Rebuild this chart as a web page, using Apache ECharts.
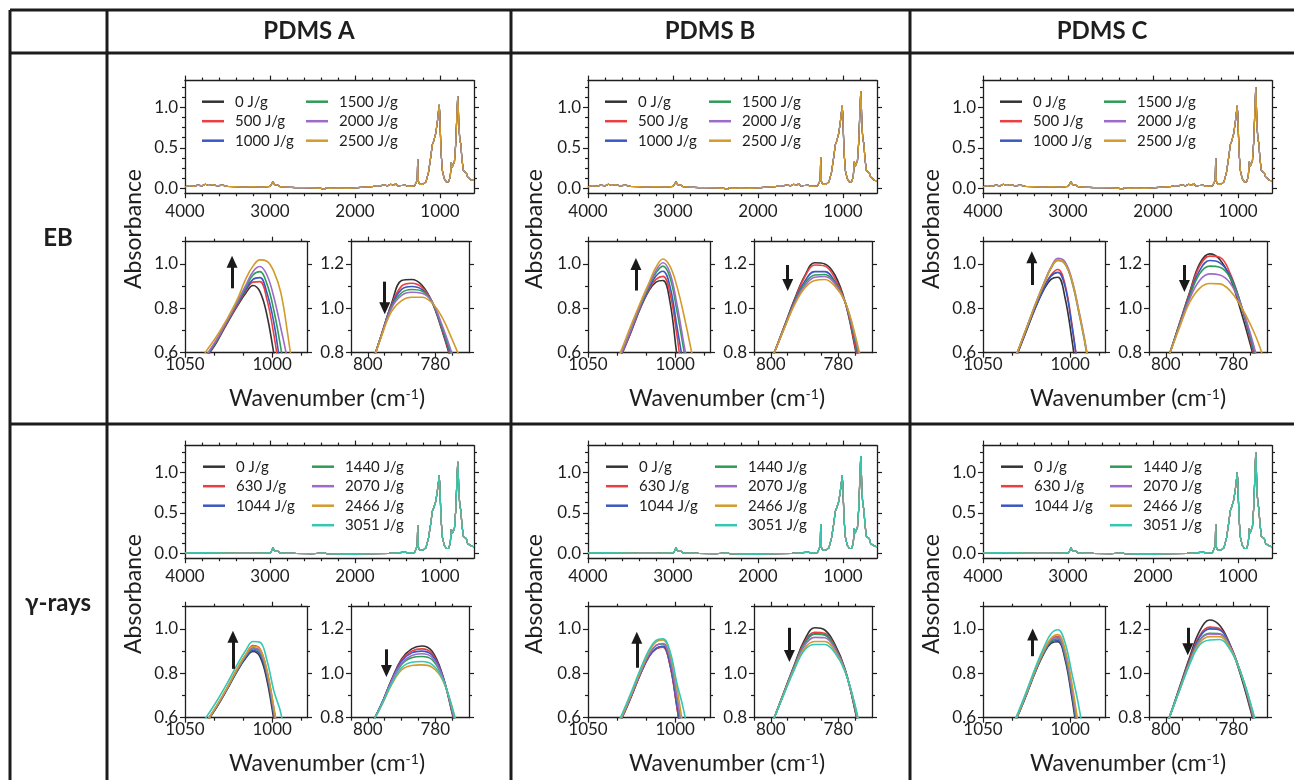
<!DOCTYPE html>
<html>
<head>
<meta charset="utf-8">
<script src="https://cdn.jsdelivr.net/npm/echarts@6.0.0/dist/echarts.min.js"></script>
<style>
  html, body { margin: 0; padding: 0; background: #fff; }
  #chart { width: 1294px; height: 780px; }
</style>
</head>
<body>
<div id="chart"></div>
<script>
// ---- labels ----
const materials = ['PDMS A', 'PDMS B', 'PDMS C'];
const treatments = ['EB', 'γ-rays'];
const dosesEB = ['0 J/g', '500 J/g', '1000 J/g', '1500 J/g', '2000 J/g', '2500 J/g'];
const dosesGamma = ['0 J/g', '630 J/g', '1044 J/g', '1440 J/g', '2070 J/g', '2466 J/g', '3051 J/g'];
const doseColors = ['#333333', '#ec3f3f', '#3b57c2', '#2f9c55', '#9d6ccb', '#d29b2b', '#35c7b4'];

// ---- full spectra (wavenumber, absorbance) ----
const specBaseEB = [[4000,0.02],[3950,0.035],[3900,0.025],[3850,0.04],[3800,0.03],[3760,0.05],[3720,0.035],[3680,0.045],[3620,0.03],[3560,0.04],[3500,0.025],[3400,0.02],[3300,0.015],[3200,0.02],[3100,0.015],[3000,0.025],[2965,0.08],[2945,0.045],[2910,0.04],[2880,0.02],[2800,0.015],[2700,0.01],[2600,0.01],[2500,0.005],[2400,0.0],[2360,-0.015],[2340,0.01],[2300,0.0],[2200,0.005],[2100,0.0],[2000,0.005],[1900,0.015],[1800,0.02],[1750,0.035],[1700,0.03],[1660,0.045],[1620,0.03],[1580,0.05],[1540,0.035],[1520,0.06],[1500,0.03],[1450,0.035],[1412,0.04],[1380,0.025],[1300,0.03]];
const specBaseGamma = [[4000,0.005],[3800,0.01],[3600,0.005],[3400,0.0],[3200,0.0],[3050,0.005],[2990,0.01],[2965,0.07],[2945,0.025],[2905,0.025],[2880,0.005],[2700,0.0],[2500,-0.005],[2360,0.005],[2330,-0.005],[2200,-0.01],[2000,-0.012],[1800,-0.005],[1600,0.0],[1500,0.005],[1412,0.015],[1380,0.005],[1300,0.01]];

const specPeaksEB_A = [[1290,0.03],[1268,0.1],[1262,0.36],[1256,0.09],[1240,0.05],[1200,0.05],[1165,0.08],[1135,0.2],[1110,0.38],[1090,0.54],[1075,0.58],[1050,0.68],[1030,0.83],[1018,0.95],[1010,1.03],[1003,0.93],[996,0.7],[986,0.42],[972,0.22],[950,0.12],[925,0.08],[900,0.08],[880,0.14],[866,0.32],[857,0.26],[845,0.25],[830,0.33],[815,0.55],[801,0.92],[791,1.14],[785,1.0],[777,0.75],[765,0.58],[755,0.55],[742,0.36],[725,0.22],[712,0.21],[702,0.24],[690,0.19],[675,0.14],[655,0.12],[630,0.1],[600,0.1]];
const specPeaksEB_B = [[1290,0.03],[1268,0.1],[1262,0.38],[1256,0.09],[1240,0.05],[1200,0.05],[1165,0.08],[1135,0.2],[1110,0.38],[1090,0.54],[1075,0.58],[1050,0.68],[1030,0.83],[1018,0.94],[1010,1.02],[1003,0.92],[996,0.7],[986,0.42],[972,0.22],[950,0.12],[925,0.08],[900,0.08],[880,0.14],[866,0.33],[857,0.27],[845,0.26],[830,0.34],[815,0.57],[801,0.95],[791,1.2],[785,1.05],[777,0.77],[765,0.59],[755,0.56],[742,0.37],[725,0.22],[712,0.21],[702,0.24],[690,0.19],[675,0.14],[655,0.12],[630,0.1],[600,0.09]];
const specPeaksEB_C = [[1290,0.03],[1268,0.1],[1262,0.37],[1256,0.09],[1240,0.05],[1200,0.05],[1165,0.08],[1135,0.2],[1110,0.38],[1090,0.54],[1075,0.58],[1050,0.68],[1030,0.83],[1018,0.94],[1010,1.02],[1003,0.92],[996,0.7],[986,0.42],[972,0.22],[950,0.12],[925,0.08],[900,0.08],[880,0.14],[866,0.33],[857,0.27],[845,0.26],[830,0.34],[815,0.58],[801,0.97],[791,1.25],[785,1.08],[777,0.78],[765,0.6],[755,0.56],[742,0.37],[725,0.22],[712,0.21],[702,0.24],[690,0.19],[675,0.14],[655,0.12],[630,0.1],[600,0.09]];
const specPeaksGm_A = [[1290,0.02],[1268,0.09],[1262,0.35],[1256,0.08],[1240,0.04],[1200,0.04],[1165,0.07],[1135,0.19],[1110,0.36],[1090,0.52],[1075,0.56],[1050,0.64],[1030,0.78],[1018,0.88],[1010,0.96],[1003,0.86],[996,0.66],[986,0.4],[972,0.2],[950,0.1],[925,0.06],[900,0.06],[880,0.12],[866,0.3],[857,0.24],[845,0.23],[830,0.31],[815,0.53],[801,0.9],[791,1.13],[785,0.99],[777,0.74],[765,0.57],[755,0.54],[742,0.35],[725,0.21],[712,0.2],[702,0.23],[690,0.18],[675,0.12],[655,0.1],[630,0.09],[600,0.08]];
const specPeaksGm_B = [[1290,0.02],[1268,0.09],[1262,0.36],[1256,0.08],[1240,0.04],[1200,0.04],[1165,0.07],[1135,0.19],[1110,0.36],[1090,0.52],[1075,0.56],[1050,0.64],[1030,0.78],[1018,0.88],[1010,0.96],[1003,0.86],[996,0.66],[986,0.4],[972,0.2],[950,0.1],[925,0.06],[900,0.06],[880,0.12],[866,0.31],[857,0.25],[845,0.24],[830,0.32],[815,0.55],[801,0.94],[791,1.2],[785,1.04],[777,0.76],[765,0.58],[755,0.55],[742,0.36],[725,0.21],[712,0.2],[702,0.23],[690,0.18],[675,0.12],[655,0.1],[630,0.09],[600,0.08]];
const specPeaksGm_C = [[1290,0.02],[1268,0.09],[1262,0.36],[1256,0.08],[1240,0.04],[1200,0.04],[1165,0.07],[1135,0.19],[1110,0.37],[1090,0.53],[1075,0.57],[1050,0.66],[1030,0.8],[1018,0.91],[1010,1.0],[1003,0.9],[996,0.68],[986,0.41],[972,0.2],[950,0.1],[925,0.06],[900,0.06],[880,0.12],[866,0.31],[857,0.25],[845,0.24],[830,0.33],[815,0.57],[801,0.97],[791,1.25],[785,1.08],[777,0.78],[765,0.6],[755,0.56],[742,0.37],[725,0.21],[712,0.2],[702,0.23],[690,0.18],[675,0.12],[655,0.1],[630,0.09],[600,0.08]];

// ---- zoomed insets: shared wavenumber grids, one absorbance row per dose ----
const wnInsetLeft = [1044, 1038, 1032, 1026, 1020, 1015, 1011, 1007, 1003, 999, 995, 991, 987];
const wnInsetRight = [802, 799, 796, 793, 790, 787, 784, 781, 778, 775, 772, 769];

const ebA_left = [
  [.50,.575,.645,.73,.81,.87,.903,.875,.77,.595,.42,.30,.20],
  [.50,.578,.65,.735,.815,.88,.918,.92,.84,.68,.48,.33,.22],
  [.50,.58,.652,.738,.82,.885,.93,.938,.87,.735,.53,.36,.24],
  [.505,.582,.655,.74,.825,.895,.95,.965,.91,.79,.62,.42,.28],
  [.51,.585,.658,.742,.83,.905,.965,.988,.95,.85,.71,.56,.38],
  [.53,.605,.672,.75,.84,.935,.99,1.018,1.012,.965,.87,.68,.45]
];
const ebA_right = [
  [.60,.74,.88,1.02,1.125,1.13,1.105,1.03,.90,.75,.60,.45],
  [.60,.74,.88,1.015,1.10,1.113,1.095,1.03,.905,.76,.615,.47],
  [.60,.74,.878,1.01,1.085,1.098,1.085,1.03,.91,.77,.63,.49],
  [.60,.74,.877,1.005,1.07,1.085,1.078,1.03,.915,.78,.645,.50],
  [.60,.74,.875,1.00,1.058,1.072,1.068,1.03,.925,.795,.66,.52],
  [.60,.74,.872,.985,1.035,1.05,1.05,1.025,.96,.86,.75,.62]
];
const ebB_left = [
  [.40,.48,.57,.68,.80,.88,.918,.925,.83,.59,.38,.25,.15],
  [.40,.48,.57,.68,.80,.885,.93,.944,.87,.68,.45,.30,.18],
  [.40,.48,.572,.685,.805,.89,.945,.967,.90,.72,.53,.33,.20],
  [.40,.48,.574,.69,.81,.90,.96,.99,.94,.79,.61,.42,.24],
  [.40,.482,.576,.692,.815,.905,.97,1.005,.96,.82,.64,.47,.28],
  [.41,.49,.59,.71,.825,.915,.985,1.022,.99,.90,.77,.62,.45]
];
const ebB_right = [
  [.69,.80,.92,1.04,1.145,1.205,1.20,1.15,1.03,.82,.58,.35],
  [.69,.80,.918,1.035,1.14,1.195,1.19,1.135,1.03,.83,.60,.38],
  [.69,.80,.915,1.03,1.12,1.165,1.165,1.12,1.03,.85,.63,.41],
  [.69,.80,.913,1.025,1.11,1.15,1.152,1.115,1.03,.86,.65,.43],
  [.69,.80,.912,1.02,1.10,1.14,1.143,1.11,1.03,.87,.66,.44],
  [.69,.80,.91,1.015,1.09,1.125,1.13,1.10,1.03,.88,.68,.46]
];
const ebC_left = [
  [.40,.48,.565,.68,.80,.885,.93,.94,.85,.66,.43,.28,.17],
  [.40,.48,.567,.685,.805,.895,.95,.975,.91,.73,.50,.33,.20],
  [.40,.48,.566,.683,.803,.89,.945,.962,.90,.72,.51,.34,.21],
  [.40,.482,.57,.69,.815,.91,.98,1.015,1.0,.92,.78,.62,.42],
  [.40,.483,.572,.692,.818,.915,.985,1.025,1.01,.93,.79,.63,.43],
  [.40,.483,.571,.691,.816,.912,.982,1.018,1.0,.925,.785,.625,.425]
];
const ebC_right = [
  [.66,.79,.93,1.07,1.20,1.245,1.22,1.14,1.0,.84,.66,.48],
  [.66,.79,.928,1.065,1.19,1.235,1.23,1.16,1.03,.86,.68,.50],
  [.66,.79,.925,1.058,1.17,1.215,1.205,1.15,1.03,.87,.69,.51],
  [.66,.79,.922,1.05,1.155,1.19,1.185,1.14,1.03,.88,.70,.52],
  [.665,.79,.918,1.04,1.125,1.155,1.15,1.115,1.025,.89,.72,.54],
  [.67,.79,.912,1.025,1.09,1.112,1.11,1.08,1.015,.93,.82,.65]
];
const gmA_left = [
  [.50,.575,.645,.725,.81,.87,.898,.875,.77,.59,.40,.28,.18],
  [.50,.577,.65,.73,.82,.885,.925,.91,.81,.64,.45,.31,.20],
  [.50,.576,.647,.727,.812,.875,.903,.885,.785,.61,.42,.29,.19],
  [.50,.577,.648,.73,.815,.88,.91,.895,.80,.625,.43,.30,.19],
  [.50,.577,.65,.73,.818,.882,.915,.90,.805,.63,.44,.30,.20],
  [.50,.578,.652,.733,.822,.887,.922,.91,.815,.645,.455,.32,.21],
  [.53,.60,.672,.752,.84,.905,.943,.94,.86,.72,.62,.44,.26]
];
const gmA_right = [
  [.70,.77,.86,.97,1.065,1.11,1.123,1.10,1.0,.82,.62,.42],
  [.70,.77,.86,.97,1.06,1.10,1.11,1.09,.995,.825,.63,.43],
  [.70,.77,.86,.968,1.055,1.092,1.10,1.082,.995,.83,.64,.44],
  [.70,.77,.857,.96,1.04,1.07,1.076,1.062,.987,.837,.65,.46],
  [.70,.77,.858,.963,1.045,1.08,1.088,1.072,.99,.835,.645,.45],
  [.70,.77,.853,.948,1.015,1.035,1.038,1.028,.975,.848,.67,.48],
  [.70,.77,.855,.952,1.025,1.05,1.053,1.04,.98,.845,.66,.47]
];
const gmB_left = [
  [.42,.49,.575,.68,.795,.875,.91,.92,.84,.65,.45,.30,.19],
  [.42,.49,.575,.68,.795,.875,.91,.918,.838,.648,.448,.30,.19],
  [.42,.49,.576,.682,.797,.877,.912,.922,.845,.66,.46,.31,.20],
  [.42,.492,.578,.686,.802,.885,.925,.932,.865,.69,.49,.33,.21],
  [.42,.492,.578,.686,.802,.886,.926,.934,.868,.695,.495,.335,.215],
  [.425,.495,.582,.692,.81,.897,.942,.95,.89,.735,.54,.37,.24],
  [.43,.50,.59,.70,.818,.905,.948,.955,.90,.755,.63,.45,.26]
];
const gmB_right = [
  [.69,.80,.92,1.04,1.15,1.205,1.195,1.13,1.02,.83,.60,.38],
  [.69,.80,.918,1.035,1.14,1.185,1.18,1.12,1.015,.835,.61,.39],
  [.69,.80,.917,1.033,1.135,1.178,1.174,1.117,1.015,.838,.615,.395],
  [.69,.80,.917,1.032,1.133,1.176,1.172,1.116,1.015,.84,.62,.40],
  [.69,.80,.915,1.028,1.125,1.162,1.16,1.11,1.013,.845,.625,.405],
  [.69,.80,.913,1.022,1.113,1.143,1.143,1.10,1.01,.85,.635,.415],
  [.69,.80,.91,1.018,1.105,1.13,1.13,1.092,1.008,.855,.64,.42]
];
const gmC_left = [
  [.42,.49,.575,.685,.805,.89,.935,.942,.865,.69,.48,.32,.20],
  [.42,.491,.578,.69,.812,.90,.952,.966,.898,.735,.53,.36,.23],
  [.42,.49,.576,.687,.808,.893,.94,.948,.875,.705,.50,.335,.21],
  [.42,.49,.577,.689,.81,.897,.946,.955,.885,.72,.515,.35,.22],
  [.42,.491,.578,.69,.812,.90,.95,.962,.893,.73,.525,.355,.225],
  [.422,.492,.58,.693,.816,.905,.958,.974,.91,.755,.555,.38,.24],
  [.425,.495,.585,.70,.825,.918,.978,.996,.94,.80,.65,.46,.28]
];
const gmC_right = [
  [.68,.80,.935,1.07,1.19,1.24,1.215,1.13,1.0,.84,.66,.47],
  [.68,.80,.93,1.06,1.17,1.208,1.20,1.13,1.01,.85,.67,.48],
  [.68,.80,.928,1.055,1.163,1.20,1.195,1.128,1.01,.855,.675,.485],
  [.68,.80,.925,1.05,1.15,1.18,1.178,1.12,1.01,.86,.68,.49],
  [.68,.80,.924,1.048,1.147,1.177,1.176,1.12,1.012,.862,.685,.495],
  [.68,.80,.922,1.043,1.137,1.165,1.165,1.115,1.012,.868,.69,.50],
  [.68,.80,.92,1.038,1.127,1.15,1.152,1.108,1.012,.872,.70,.51]
];

// arrows [wavenumber, from, to] in order EB A, EB B, EB C, γ A, γ B, γ C
const arrowsLeft = [[1023, 0.89, 1.01], [1022.5, 0.88, 1.0], [1022, 0.905, 1.03], [1022.5, 0.82, 0.965], [1022, 0.825, 0.96], [1021.5, 0.877, 0.975]];
const arrowsRight = [[795, 1.12, 1.0], [795, 1.195, 1.105], [794.5, 1.195, 1.1], [794.5, 1.108, 1.01], [794.5, 1.205, 1.078], [793.5, 1.205, 1.108]];

// ---- axis scales ----
const scaleTopX = { min: 600, max: 4000, inverse: true, major: [1000, 2000, 3000, 4000],
  minor: [800, 1200, 1400, 1600, 1800, 2200, 2400, 2600, 2800, 3200, 3400, 3600, 3800], fmt: v => String(v), margin: 10 };
const scaleTopY = { min: -0.06, max: 1.33, major: [0, 0.5, 1.0],
  minor: [0.125, 0.25, 0.375, 0.625, 0.75, 0.875, 1.125, 1.25], fmt: v => v.toFixed(1), margin: 7 };
const scaleLeftX = { min: 980, max: 1050, inverse: true, major: [1000, 1050], minor: [983.33, 1016.67, 1033.33], fmt: v => String(v), margin: 3 };
const scaleLeftY = { min: 0.6, max: 1.1, major: [0.6, 0.8, 1.0], minor: [0.7, 0.9, 1.1], fmt: v => v.toFixed(1), margin: 7 };
const scaleRightX = { min: 770, max: 805, inverse: true, major: [780, 800], minor: [775, 785, 790, 795, 805], fmt: v => String(v), margin: 3 };
const scaleRightY = { min: 0.8, max: 1.3, major: [0.8, 1.0, 1.2], minor: [0.9, 1.1, 1.3], fmt: v => v.toFixed(1), margin: 7 };

// ---- layout ----
const FONT = 'Lato, "Open Sans", sans-serif';
const INK = '#1e1e1e';
const colShift = [0, 403, 798];
const rowShift = [0, 365];
const boxTop = { left: 185, top: 80.6, width: 289, height: 112.6 };
const boxLeft = { left: 185, top: 241.7, width: 122, height: 111 };
const boxRight = { left: 351, top: 241.7, width: 118, height: 111 };

const grids = [], xAxes = [], yAxes = [], series = [], legends = [];

function makeAxis(g, pos, sc, major) {
  const labelled = major && (pos === 'bottom' || pos === 'left');
  return {
    type: 'value', gridIndex: g, position: pos,
    min: sc.min, max: sc.max, inverse: !!sc.inverse, silent: true,
    axisLine: { show: major, onZero: false, lineStyle: { color: INK, width: 1.3 } },
    axisTick: { show: true, customValues: major ? sc.major : sc.minor, length: major ? 5 : 3,
      lineStyle: { color: INK, width: 1.2 } },
    axisLabel: { show: labelled, customValues: sc.major, formatter: sc.fmt, color: INK,
      fontFamily: FONT, fontSize: 17, margin: sc.margin },
    splitLine: { show: false }
  };
}

function addPanel(box, dx, dy, sx, sy) {
  const g = grids.length;
  grids.push({ left: box.left + dx, top: box.top + dy, width: box.width, height: box.height });
  const xi = xAxes.length, yi = yAxes.length;
  xAxes.push(makeAxis(g, 'bottom', sx, true), makeAxis(g, 'bottom', sx, false),
             makeAxis(g, 'top', sx, true), makeAxis(g, 'top', sx, false));
  yAxes.push(makeAxis(g, 'left', sy, true), makeAxis(g, 'left', sy, false),
             makeAxis(g, 'right', sy, true), makeAxis(g, 'right', sy, false));
  return { xi, yi };
}

function arrowMark(a) {
  return {
    silent: true, symbol: ['none', 'triangle'], symbolSize: [11, 12], animation: false,
    label: { show: false },
    lineStyle: { color: '#1a1a1a', width: 3, type: 'solid' },
    data: [[{ coord: [a[0], a[1]] }, { coord: [a[0], a[2]] }]]
  };
}

const cells = [
  { r: 0, c: 0, doses: dosesEB, spec: specBaseEB.concat(specPeaksEB_A), inL: ebA_left, inR: ebA_right },
  { r: 0, c: 1, doses: dosesEB, spec: specBaseEB.concat(specPeaksEB_B), inL: ebB_left, inR: ebB_right },
  { r: 0, c: 2, doses: dosesEB, spec: specBaseEB.concat(specPeaksEB_C), inL: ebC_left, inR: ebC_right },
  { r: 1, c: 0, doses: dosesGamma, spec: specBaseGamma.concat(specPeaksGm_A), inL: gmA_left, inR: gmA_right },
  { r: 1, c: 1, doses: dosesGamma, spec: specBaseGamma.concat(specPeaksGm_B), inL: gmB_left, inR: gmB_right },
  { r: 1, c: 2, doses: dosesGamma, spec: specBaseGamma.concat(specPeaksGm_C), inL: gmC_left, inR: gmC_right }
];

cells.forEach((cell, k) => {
  const dx = colShift[cell.c], dy = rowShift[cell.r];
  const pTop = addPanel(boxTop, dx, dy, scaleTopX, scaleTopY);
  const pL = addPanel(boxLeft, dx, dy, scaleLeftX, scaleLeftY);
  const pR = addPanel(boxRight, dx, dy, scaleRightX, scaleRightY);

  cell.doses.forEach((name, i) => {
    const color = doseColors[i];
    series.push({
      name, type: 'line', xAxisIndex: pTop.xi, yAxisIndex: pTop.yi, data: cell.spec,
      showSymbol: false, clip: true, color, lineStyle: { width: 1.2, color }
    });
    series.push({
      name, type: 'line', xAxisIndex: pL.xi, yAxisIndex: pL.yi, smooth: 0.4, clip: true,
      data: wnInsetLeft.map((w, j) => [w, cell.inL[i][j]]),
      showSymbol: false, color, lineStyle: { width: 1.6, color },
      markLine: i === 0 ? arrowMark(arrowsLeft[k]) : undefined
    });
    series.push({
      name, type: 'line', xAxisIndex: pR.xi, yAxisIndex: pR.yi, smooth: 0.4, clip: true,
      data: wnInsetRight.map((w, j) => [w, cell.inR[i][j]]),
      showSymbol: false, color, lineStyle: { width: 1.6, color },
      markLine: i === 0 ? arrowMark(arrowsRight[k]) : undefined
    });
  });

  // legend in two columns
  const legBase = {
    orient: 'vertical', padding: 0, itemGap: 3.5, itemWidth: 22, itemHeight: 2.5, icon: 'rect',
    selectedMode: false, top: 93.7 + dy,
    textStyle: { fontFamily: FONT, fontSize: 15, color: INK, lineHeight: 16, padding: [0, 0, 0, 6] }
  };
  const firstCol = cell.r === 0 ? 17 : 18, secondCol = cell.r === 0 ? 121 : 127;
  legends.push(Object.assign({}, legBase, { left: boxTop.left + dx + firstCol, data: cell.doses.slice(0, 3) }));
  legends.push(Object.assign({}, legBase, { left: boxTop.left + dx + secondCol, data: cell.doses.slice(3) }));
});

// ---- table frame and texts ----
const elements = [];
const line = (x1, y1, x2, y2) => elements.push({ type: 'line', silent: true,
  shape: { x1, y1, x2, y2 }, style: { stroke: '#1c1c1c', lineWidth: 3 } });
line(10, 10, 1294, 10);
line(10, 53, 1294, 53);
line(10, 424, 1294, 424);
[10, 107, 511, 910].forEach(x => line(x, 10, x, 780));

const text = (x, y, str, extra) => elements.push(Object.assign({ type: 'text', x, y, silent: true,
  style: Object.assign({ text: str, fill: INK, fontFamily: FONT, align: 'center', verticalAlign: 'middle' }, extra.style || {}) },
  extra.el || {}));

const headerX = [309, 710, 1102];
materials.forEach((m, i) => text(headerX[i], 31, m, { style: { fontSize: 24, fontWeight: 'bold' } }));
const rowY = [238, 603];
treatments.forEach((t, i) => text(58, rowY[i], t, { style: { fontSize: 24, fontWeight: 'bold' } }));

const absX = [134, 535, 932];
const waveX = [327, 727, 1128];
rowShift.forEach(dy => {
  absX.forEach(x => text(x, 229 + dy, 'Absorbance', { style: { fontSize: 23 }, el: { rotation: Math.PI / 2 } }));
  waveX.forEach(x => text(x, 399 + dy, 'Wavenumber (cm{s|-1})', {
    style: { fontSize: 23, rich: { s: { fontSize: 14, fontFamily: FONT, fill: INK, verticalAlign: 'top', lineHeight: 24 } } }
  }));
});

const chart = echarts.init(document.getElementById('chart'), null, { renderer: 'canvas' });
chart.setOption({
  animation: false,
  backgroundColor: '#ffffff',
  grid: grids,
  xAxis: xAxes,
  yAxis: yAxes,
  legend: legends,
  series: series,
  graphic: { elements }
});
</script>
</body>
</html>
